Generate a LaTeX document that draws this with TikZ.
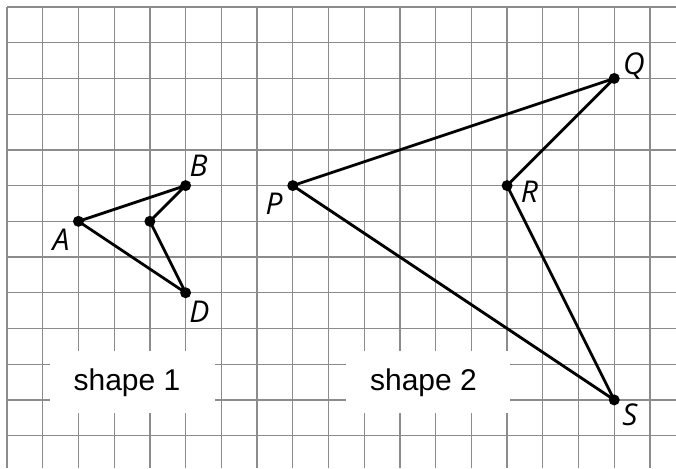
\documentclass[tikz,border=0pt]{standalone}
\usepackage{fontspec}
\setmainfont{Liberation Sans}
\newfontfamily\labfont{Open Sans}
\begin{document}
\begin{tikzpicture}[x=1pt,y=-1pt,
  gridline/.style={draw=gray!90!white,line width=1.3pt},
  seg/.style={draw=black,line width=2.8pt},
  pt/.style={circle,fill=black,inner sep=0pt,minimum size=11pt},
  lab/.style={font=\labfont\itshape\fontsize{30}{30}\selectfont,inner sep=0pt},
  shapelab/.style={font=\fontsize{30}{30}\selectfont,inner sep=0pt}]
\useasboundingbox (0,0) rectangle (676,468);
\fill[white] (0,0) rectangle (676,468);
\def\s{35.72}
\foreach \k in {0,...,18} \draw[gridline] ({7+\k*\s},7) -- ({7+\k*\s},468);
\foreach \k in {0,...,12} \draw[gridline] (7,{7+\k*\s}) -- (676,{7+\k*\s});
% label boxes
\fill[white] (50,350.7) rectangle (215,413.3);
\fill[white] (345.7,350.7) rectangle (510,413.3);
\node[shapelab] (s1) at (127,383) {shape 1};
\node[shapelab] (s2) at (423.5,383) {shape 2};
% points
\node[pt] (A) at ({7+2*\s},{7+6*\s}) {};
\node[pt] (B) at ({7+5*\s},{7+5*\s}) {};
\node[pt] (C) at ({7+4*\s},{7+6*\s}) {};
\node[pt] (D) at ({7+5*\s},{7+8*\s}) {};
\node[pt] (P) at ({7+8*\s},{7+5*\s}) {};
\node[pt] (Q) at ({7+17*\s},{7+2*\s}) {};
\node[pt] (R) at ({7+14*\s},{7+5*\s}) {};
\node[pt] (S) at ({7+17*\s},{7+11*\s}) {};
\draw[seg] (A.center) -- (B.center) -- (C.center) -- (D.center) -- cycle;
\draw[seg] (P.center) -- (Q.center) -- (R.center) -- (S.center) -- cycle;
\node[lab] (lA) at (61,239.5) {A};
\node[lab] (lB) at (198.5,166) {B};
\node[lab] (lD) at (199.5,311.5) {D};
\node[lab] (lP) at (274,203.5) {P};
\node[lab] (lQ) at (634,66.5) {Q};
\node[lab] (lR) at (529.5,191.5) {R};
\node[lab] (lS) at (630,415) {S};
\end{tikzpicture}
\end{document}
